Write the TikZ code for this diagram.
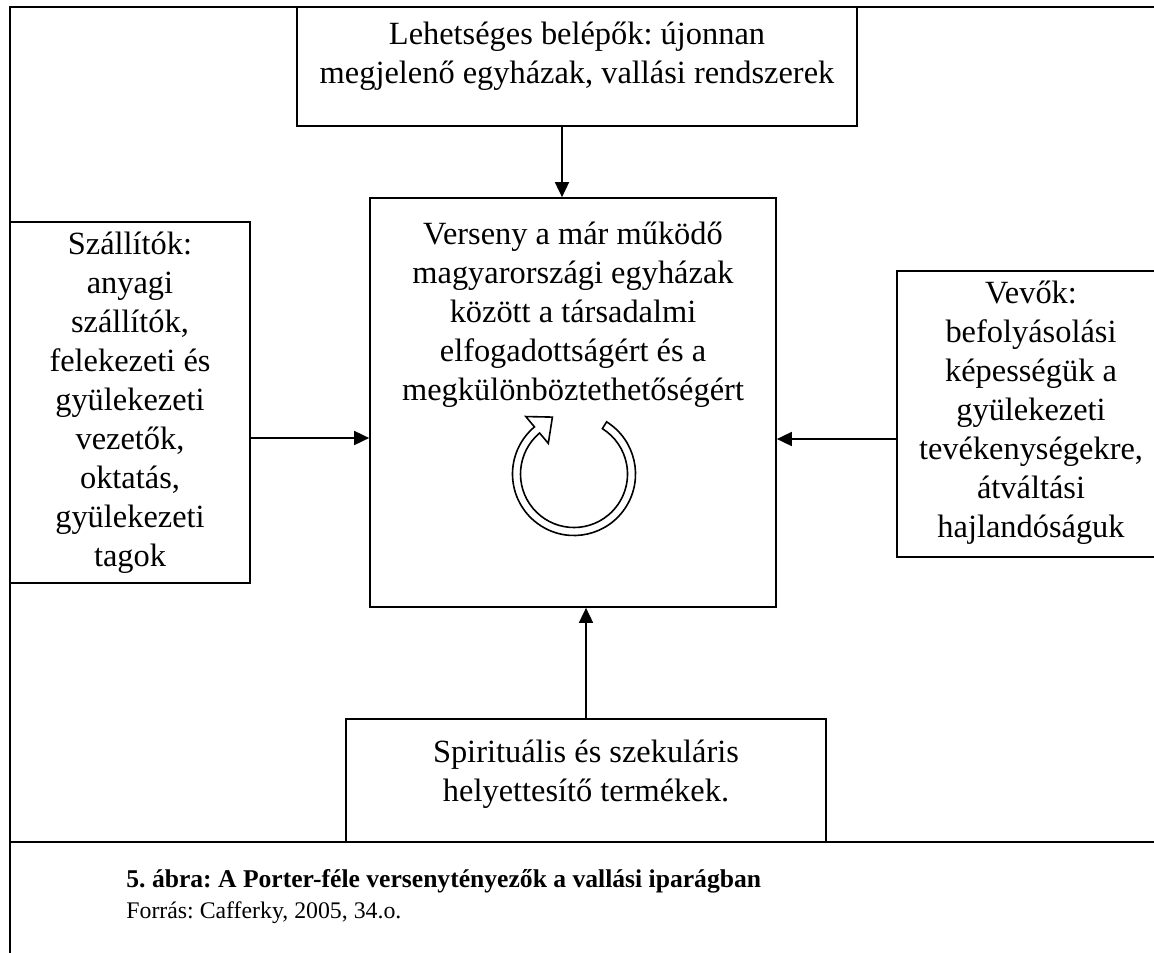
\documentclass[tikz,border=0pt]{standalone}
\usepackage{fontspec}
\setmainfont{Liberation Serif}
\usetikzlibrary{arrows.meta}
\frenchspacing
\begin{document}
\begin{tikzpicture}[x=0.5pt,y=-0.5pt,
  frame/.style={line width=0.85pt},
  box/.style={draw,line width=0.85pt,fill=white,inner sep=0pt},
  txt/.style={font=\fontsize{16.2}{19.5}\selectfont\frenchspacing,align=center,inner sep=0pt,anchor=north},
  conn/.style={line width=0.85pt,-{Triangle[length=7.5pt,width=7pt]}},
  ring/.style={line width=0.8pt,fill=white}]
\useasboundingbox (0,0) rectangle (1154,952);
\clip (0,0) rectangle (1154,952);
\coordinate (ftl) at (10,7);
\coordinate (ftr) at (1170,7);
\coordinate (fbl) at (10,970);
\coordinate (sl) at (10,842);
\coordinate (sr) at (1170,842);
\draw[frame] (ftr) -- (ftl) -- (fbl);
\draw[frame] (sl) -- (sr);
\node[box,minimum width=280pt,minimum height=59.5pt] (top) at (577,66.5) {};
\node[box,minimum width=203pt,minimum height=204.5pt] (mid) at (573,402.5) {};
\node[box,minimum width=120pt,minimum height=180.5pt] (left) at (130,402.5) {};
\node[box,minimum width=136.5pt,minimum height=143pt] (right) at (1033.5,414) {};
\node[box,minimum width=240pt,minimum height=61.5pt] (bot) at (586,780.5) {};
\node[txt] (toptext) at (577,22) {Lehetséges belépők: újonnan\\megjelenő egyházak, vallási rendszerek};
\node[txt] (midtext) at (573,222) {Verseny a már működő\\magyarországi egyházak\\között a társadalmi\\elfogadottságért és a\\megkülönböztethetőségért};
\node[txt] (lefttext) at (130,232) {Szállítók:\\anyagi\\szállítók,\\felekezeti és\\gyülekezeti\\vezetők,\\oktatás,\\gyülekezeti\\tagok};
\node[txt] (righttext) at (1031,281) {Vevők:\\befolyásolási\\képességük a\\gyülekezeti\\tevékenységekre,\\átváltási\\hajlandóságuk};
\node[txt] (bottext) at (586,740) {Spirituális és szekuláris\\helyettesítő termékek.};
\coordinate (ax1) at (562,0);
\draw[conn] (top.south -| ax1) -- (mid.north -| ax1);
\coordinate (ay1) at (0,438);
\draw[conn] (left.east |- ay1) -- (mid.west |- ay1);
\coordinate (ay2) at (0,439);
\draw[conn] (right.west |- ay2) -- (mid.east |- ay2);
\coordinate (ax2) at (586,0);
\draw[conn] (bot.north -| ax2) -- (mid.south -| ax2);
\begin{scope}[shift={(574,474)},x=0.5pt,y=0.5pt]
\draw[ring] (58:61.5) arc[start angle=58,end angle=-230,radius=61.5] -- (130:75) -- (-21.6,56.9) -- (130:40) -- (130:53.5) arc[start angle=-230,end angle=58,radius=53.5] -- cycle;
\end{scope}
\node[font=\fontsize{12.8}{14}\selectfont\bfseries,anchor=west,inner sep=0pt] (cap) at (126,881) {5. ábra: A Porter-féle versenytényezők a vallási iparágban};
\node[font=\fontsize{11.9}{14}\selectfont,anchor=west,inner sep=0pt] (src) at (126,913) {Forrás: Cafferky, 2005, 34.o.};
\end{tikzpicture}
\end{document}
